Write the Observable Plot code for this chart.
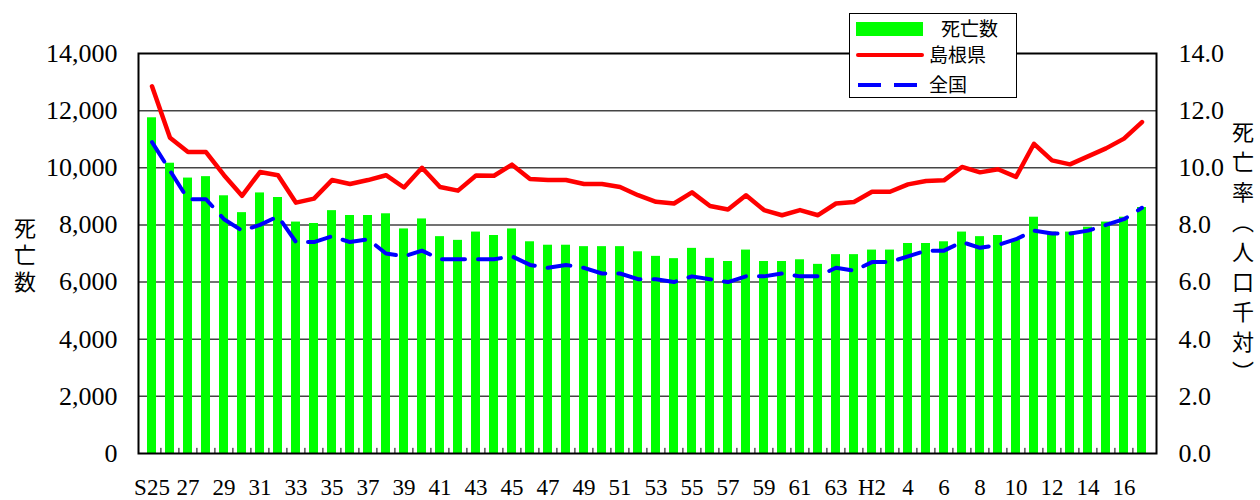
<!DOCTYPE html>
<html>
<head>
<meta charset="utf-8">
<script src="https://cdn.jsdelivr.net/npm/d3@7"></script>
<script src="https://cdn.jsdelivr.net/npm/@observablehq/plot@0.6"></script>
<style>
  html, body { margin: 0; padding: 0; background: white; }
  #wrap { position: relative; width: 1260px; height: 500px; overflow: hidden; }
  .vtitle { position: absolute; writing-mode: vertical-rl; font-family: "Noto Sans CJK JP"; font-size: 22px; color: #000; line-height: 1; }
  #legend { position: absolute; left: 849px; top: 13px; width: 166px; height: 83px; border: 1px solid #000; background: #fff; }
</style>
</head>
<body>
<div id="wrap"></div>
<script>
// ---- data ----
const years = ["S25","S26","S27","S28","S29","S30","S31","S32","S33","S34",
  "S35","S36","S37","S38","S39","S40","S41","S42","S43","S44",
  "S45","S46","S47","S48","S49","S50","S51","S52","S53","S54",
  "S55","S56","S57","S58","S59","S60","S61","S62","S63","H1",
  "H2","H3","H4","H5","H6","H7","H8","H9","H10","H11",
  "H12","H13","H14","H15","H16","H17"];
const deaths = [11750,10160,9640,9690,9020,8430,9120,8960,8100,8050,
  8500,8330,8330,8390,7860,8210,7590,7460,7750,7630,
  7860,7410,7290,7290,7240,7240,7240,7060,6900,6820,
  7180,6830,6720,7120,6720,6720,6780,6620,6960,6960,
  7120,7120,7350,7350,7410,7750,7590,7630,7470,8270,
  7750,7750,7920,8100,8270,8610];
const shimaneRate = [12.85,11.05,10.55,10.55,9.74,9.02,9.85,9.74,8.78,8.92,
  9.57,9.43,9.57,9.74,9.31,10.0,9.33,9.2,9.73,9.72,
  10.11,9.61,9.57,9.57,9.43,9.43,9.33,9.04,8.81,8.75,
  9.14,8.66,8.54,9.04,8.52,8.34,8.52,8.34,8.75,8.8,
  9.16,9.16,9.42,9.54,9.56,10.03,9.84,9.95,9.68,10.84,
  10.26,10.12,10.4,10.68,11.02,11.6];
const nationalRate = [10.9,9.9,8.9,8.9,8.2,7.8,8.0,8.3,7.4,7.4,
  7.6,7.4,7.5,7.0,6.9,7.1,6.8,6.8,6.8,6.8,
  6.9,6.6,6.5,6.6,6.5,6.3,6.3,6.1,6.1,6.0,
  6.2,6.1,6.0,6.2,6.2,6.3,6.2,6.2,6.5,6.4,
  6.7,6.7,6.9,7.1,7.1,7.4,7.2,7.3,7.5,7.8,
  7.7,7.7,7.8,8.0,8.2,8.6];
const xTicks = ["S25","S27","S29","S31","S33","S35","S37","S39","S41","S43","S45","S47","S49","S51","S53",
  "S55","S57","S59","S61","S63","H2","H4","H6","H8","H10","H12","H14","H16"];
const xTickLabels = ["S25","27","29","31","33","35","37","39","41","43","45","47","49","51","53",
  "55","57","59","61","63","H2","4","6","8","10","12","14","16"];
const yTicks = [0,2000,4000,6000,8000,10000,12000,14000];
const rateTicks = [0.0,2.0,4.0,6.0,8.0,10.0,12.0,14.0];
const seriesNames = ["死亡数","島根県","全国"];

// ---- build ----
const data = years.map((y, i) => ({year: y, deaths: deaths[i], shimane: shimaneRate[i], national: nationalRate[i]}));
const W = 1260, H = 500, mL = 138, mR = 104, mT = 53, mB = 47;
const step = (W - mL - mR) / years.length;
const rateScale = 14000 / 14.0;

const chart = Plot.plot({
  width: W, height: H,
  marginLeft: mL, marginRight: mR, marginTop: mT, marginBottom: mB,
  x: {type: "band", domain: years, paddingInner: 0.49, paddingOuter: 0.245, label: null},
  y: {domain: [0, 14000], label: null},
  style: {fontFamily: "'Liberation Serif', serif", fontSize: "26px", color: "#000", background: "white", overflow: "visible"},
  marks: [
    Plot.ruleY(yTicks.slice(1, -1), {stroke: "#444", strokeWidth: 1.5}),
    Plot.barY(data, {x: "year", y: "deaths", fill: "#00ff00"}),
    Plot.ruleX(years.slice(1), {x: d => d, y1: 0, y2: 180, dx: -step / 2, stroke: "#000", strokeWidth: 1}),
    Plot.line(data, {x: "year", y: d => d.shimane * rateScale, stroke: "#ff0000", strokeWidth: 4.5, strokeLinejoin: "round", strokeLinecap: "round"}),
    Plot.line(data, {x: "year", y: d => d.national * rateScale, stroke: "#0000ff", strokeWidth: 4, strokeDasharray: "23,13", strokeLinejoin: "round"}),
    Plot.frame({stroke: "#000", strokeWidth: 2}),
    Plot.axisY({anchor: "left", ticks: yTicks, tickFormat: d3.format(","), tickSize: 0, tickPadding: 21, fontSize: 26, label: null}),
    Plot.axisY({anchor: "right", ticks: yTicks, tickFormat: (d, i) => rateTicks[i].toFixed(1), tickSize: 0, tickPadding: 22, fontSize: 26, label: null}),
    Plot.axisX({ticks: xTicks, tickFormat: d => xTickLabels[xTicks.indexOf(d)], tickSize: 0, tickPadding: 25, fontSize: 23, label: null})
  ]
});

const wrap = document.getElementById("wrap");
wrap.appendChild(chart);

// axis titles
const lt = document.createElement("div");
lt.className = "vtitle";
lt.style.left = "14px"; lt.style.top = "217px"; lt.style.letterSpacing = "5px";
lt.textContent = "死亡数";
wrap.appendChild(lt);

const rt = document.createElement("div");
rt.className = "vtitle";
rt.style.left = "1232px"; rt.style.top = "121px"; rt.style.letterSpacing = "8px";
rt.textContent = "死亡率（人口千対）";
wrap.appendChild(rt);

// legend
const lg = document.createElement("div");
lg.id = "legend";
lg.innerHTML = `<svg width="166" height="83" xmlns="http://www.w3.org/2000/svg" style="font-family:'Noto Sans CJK JP';font-size:19px">
  <rect x="6" y="8" width="67" height="14" fill="#00ff00"></rect>
  <text x="91" y="22" fill="#000">${seriesNames[0]}</text>
  <line x1="8" x2="72" y1="41" y2="41" stroke="#ff0000" stroke-width="4" stroke-linecap="round"></line>
  <text x="79" y="48" fill="#000">${seriesNames[1]}</text>
  <line x1="8" x2="72" y1="71" y2="71" stroke="#0000ff" stroke-width="4" stroke-dasharray="23,13"></line>
  <text x="79" y="78" fill="#000">${seriesNames[2]}</text>
</svg>`;
wrap.appendChild(lg);
</script>
</body>
</html>
